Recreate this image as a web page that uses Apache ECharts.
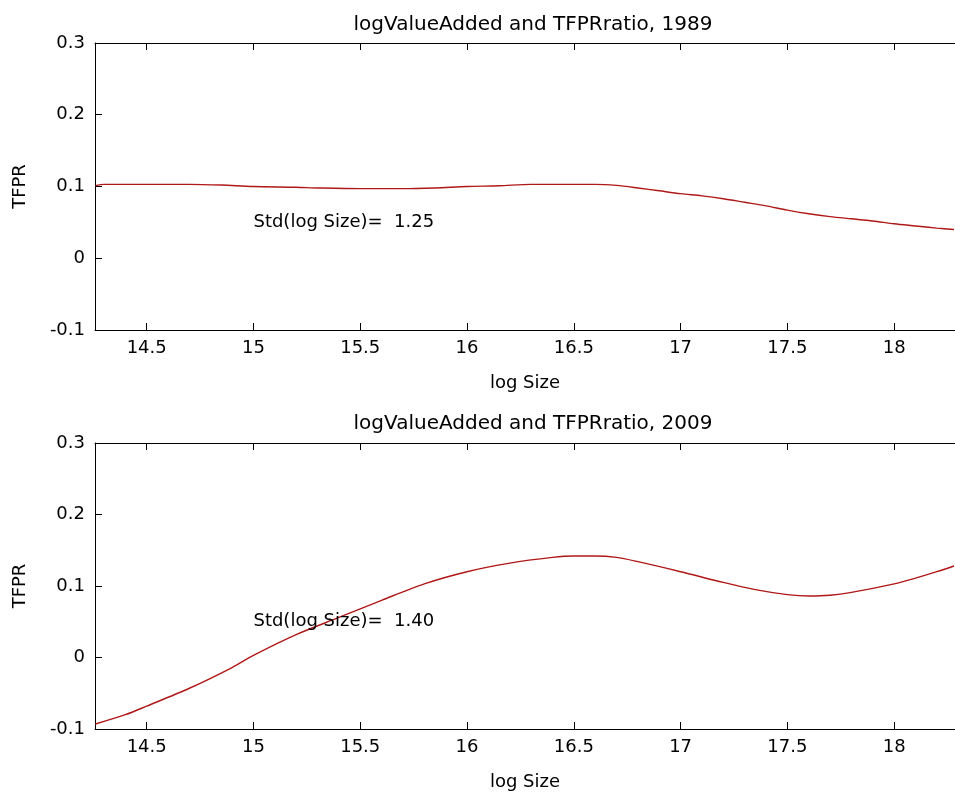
<!DOCTYPE html>
<html>
<head>
<meta charset="utf-8">
<script src="https://cdn.jsdelivr.net/npm/echarts@6/dist/echarts.min.js"></script>
<style>html,body{margin:0;padding:0;background:#fff}#c{width:955px;height:794px}</style>
</head>
<body>
<div id="c"></div>
<script>
// ---- data ----
const titles = ['logValueAdded and TFPRratio, 1989', 'logValueAdded and TFPRratio, 2009'];
const stdLabels = ['Std(log Size)=  1.25', 'Std(log Size)=  1.40'];
const stdAnchor = [15, 0.05];
const xTicks = [14.5, 15, 15.5, 16, 16.5, 17, 17.5, 18];
const xRange = [14.258, 18.285];
const yRange = [-0.1, 0.3];
const yTickStep = 0.1;

const x1989 = [14.26,14.3,14.5,14.7,14.85,15.0,15.2,15.3,15.5,15.7,15.85,16.0,16.15,16.3,16.5,16.6,16.7,16.8,16.9,17.0,17.1,17.2,17.3,17.4,17.5,17.6,17.7,17.8,17.9,18.0,18.1,18.2,18.28];
const y1989 = [0.101,0.103,0.103,0.103,0.102,0.100,0.099,0.098,0.097,0.097,0.098,0.100,0.101,0.103,0.103,0.103,0.1015,0.098,0.094,0.090,0.087,0.083,0.078,0.073,0.067,0.062,0.058,0.055,0.052,0.048,0.045,0.042,0.040];

const x2009 = [14.26,14.4,14.5,14.7,14.9,15.0,15.2,15.4,15.6,15.8,16.0,16.2,16.4,16.5,16.6,16.7,16.8,17.0,17.2,17.35,17.5,17.6,17.7,17.8,18.0,18.1,18.2,18.28];
const y2009 = [-0.093,-0.080,-0.068,-0.043,-0.014,0.003,0.032,0.056,0.080,0.103,0.120,0.132,0.140,0.142,0.142,0.140,0.134,0.120,0.105,0.095,0.088,0.086,0.087,0.091,0.103,0.111,0.120,0.128];

// ---- chart ----
const FONT = 'DejaVu Sans';
const chart = echarts.init(document.getElementById('c'), null, {renderer: 'canvas'});
const grids = [
  {left: 95, top: 43, right: -5, height: 287},
  {left: 95, top: 443, right: -5, height: 286}
];
const lineStyleAxis = {color: '#000', width: 1};
const xAxes = [], yAxes = [], series = [], titleArr = [];
const xs = [x1989, x2009], ys = [y1989, y2009];
grids.forEach((g, i) => {
  xAxes.push({
    type: 'value', gridIndex: i, min: xRange[0], max: xRange[1], position: 'bottom',
    name: 'log Size', nameLocation: 'middle', nameGap: 44,
    nameTextStyle: {fontFamily: FONT, fontSize: 18, color: '#000'},
    axisLine: {show: true, onZero: false, lineStyle: lineStyleAxis},
    axisTick: {show: true, inside: true, length: 7, customValues: xTicks, lineStyle: lineStyleAxis},
    axisLabel: {show: true, customValues: xTicks, margin: 9, fontFamily: FONT, fontSize: 18, color: '#000',
      formatter: v => String(v)},
    splitLine: {show: false}
  });
  xAxes.push({
    type: 'value', gridIndex: i, min: xRange[0], max: xRange[1], position: 'top',
    axisLine: {show: true, onZero: false, lineStyle: lineStyleAxis},
    axisTick: {show: true, inside: true, length: 7, customValues: xTicks, lineStyle: lineStyleAxis},
    axisLabel: {show: false}, splitLine: {show: false}
  });
  yAxes.push({
    type: 'value', gridIndex: i, min: yRange[0], max: yRange[1], interval: yTickStep,
    name: 'TFPR', nameLocation: 'middle', nameGap: 66, nameRotate: 90,
    nameTextStyle: {fontFamily: FONT, fontSize: 18, color: '#000'},
    axisLine: {show: true, onZero: false, lineStyle: lineStyleAxis},
    axisTick: {show: true, inside: true, length: 7, lineStyle: lineStyleAxis},
    axisLabel: {margin: 10, fontFamily: FONT, fontSize: 18, color: '#000',
      formatter: v => String(Math.round(v * 10) / 10)},
    splitLine: {show: false}
  });
  series.push({
    type: 'line', xAxisIndex: i * 2, yAxisIndex: i,
    data: xs[i].map((x, k) => [x, ys[i][k]]),
    showSymbol: false, symbol: 'none', smooth: 0.3,
    lineStyle: {color: '#b01818', width: 1.4}, silent: true, z: 3
  });
  series.push({
    type: 'scatter', xAxisIndex: i * 2, yAxisIndex: i,
    data: [stdAnchor], symbolSize: 0, silent: true, z: 4,
    itemStyle: {opacity: 1, color: '#000'},
    label: {show: true, position: 'right', distance: 0, formatter: stdLabels[i],
      fontFamily: FONT, fontSize: 18, color: '#000', opacity: 1,
      textBorderWidth: 0, textShadowBlur: 0}
  });
  titleArr.push({
    text: titles[i], left: 528, top: i === 0 ? 10 : 409, textAlign: 'center',
    textStyle: {fontFamily: FONT, fontSize: 20, fontWeight: 'normal', color: '#000'}
  });
});
chart.setOption({
  backgroundColor: '#fff',
  animation: false,
  title: titleArr,
  grid: grids,
  xAxis: xAxes,
  yAxis: yAxes,
  series: series
});
</script>
</body>
</html>
